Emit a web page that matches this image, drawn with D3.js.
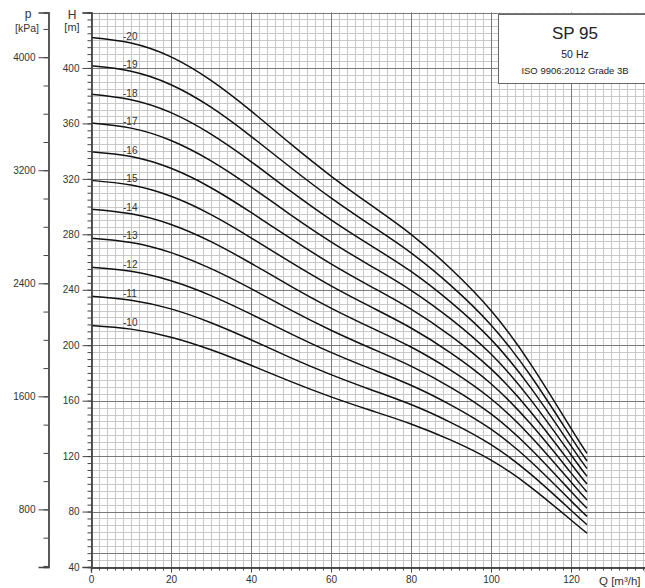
<!DOCTYPE html>
<html lang="en">
<head>
<meta charset="utf-8">
<title>SP 95 curves</title>
<script type="text/javascript" src="https://d3js.org/d3.v7.min.js"></script>
<style type="text/css">
  body { margin: 0; background: #fff; }
  svg { font-family: "Liberation Sans", Arial, sans-serif; }
</style>
</head>
<body>
<script type="text/javascript">

// flow points, m3/h
var flow = [0, 10, 20, 30, 40, 50, 60, 70, 80, 90, 100, 110, 120, 124];

// head per pump, m
var head20 = [422, 418, 408, 391, 369, 345, 322, 301, 280, 255, 225, 186, 140, 122];
var head19 = [401.5, 397.6, 387.9, 371.7, 350.7, 328.0, 306.2, 286.4, 266.6, 243.0, 214.6, 177.6, 133.7, 116.5];
var head18 = [381.0, 377.1, 367.8, 352.3, 332.5, 310.9, 290.4, 271.8, 253.2, 230.9, 204.2, 169.0, 127.4, 111.0];
var head17 = [360.3, 356.6, 347.7, 333.0, 314.2, 293.9, 274.6, 257.1, 239.6, 218.8, 193.6, 160.4, 121.0, 105.4];
var head16 = [339.6, 336.1, 327.6, 313.6, 295.8, 276.8, 258.7, 242.3, 226.0, 206.6, 182.9, 151.7, 114.5, 99.8];
var head15 = [318.9, 315.5, 307.4, 294.2, 277.5, 259.7, 242.8, 227.6, 212.4, 194.3, 172.2, 142.9, 107.9, 94.1];
var head14 = [298.1, 294.8, 287.1, 274.7, 259.1, 242.5, 226.8, 212.7, 198.7, 181.9, 161.4, 134.0, 101.3, 88.3];
var head13 = [277.2, 274.1, 266.8, 255.2, 240.8, 225.3, 210.8, 197.8, 184.9, 169.4, 150.4, 125.0, 94.5, 82.4];
var head12 = [256.3, 253.3, 246.5, 235.8, 222.4, 208.2, 194.8, 182.9, 171.1, 156.8, 139.4, 115.9, 87.7, 76.5];
var head11 = [235.3, 232.5, 226.2, 216.2, 203.9, 190.9, 178.8, 167.9, 157.2, 144.2, 128.3, 106.8, 80.9, 70.5];
var head10 = [214.2, 211.6, 205.8, 196.7, 185.5, 173.7, 162.7, 152.9, 143.2, 131.5, 117.1, 97.5, 73.9, 64.4];

var stageNames = ["-20", "-19", "-18", "-17", "-16", "-15", "-14", "-13", "-12", "-11", "-10"];
var heads = [head20, head19, head18, head17, head16, head15, head14, head13, head12, head11, head10];

var qTicks = [0, 20, 40, 60, 80, 100, 120];
var hTicks = [40, 80, 120, 160, 200, 240, 280, 320, 360, 400];
var pTicks = [800, 1600, 2400, 3200, 4000];

var w = 645;
var h = 588;

var x = d3.scaleLinear().domain([0, 138.5]).range([91, 645]);
var y = d3.scaleLinear().domain([40, 440]).range([567, 12.5]);
// 1 m water = 9.81 kPa
var yp = d3.scaleLinear().domain([40 * 9.81, 440 * 9.81]).range([567, 12.5]);

var svg = d3.select("body")
            .append("svg")
            .attr("width", w)
            .attr("height", h);

var grid = svg.append("g");

// minor grid
grid.selectAll("line.vmin")
    .data(d3.range(0, 139, 2))
    .enter()
    .append("line")
    .attr("x1", function(d){ return x(d) + 0.5 })
    .attr("x2", function(d){ return x(d) + 0.5 })
    .attr("y1", y(440))
    .attr("y2", y(40))
    .attr("stroke", "#c8c8c8")
    .attr("stroke-width", 1);

grid.selectAll("line.hmin")
    .data(d3.range(40, 441, 5))
    .enter()
    .append("line")
    .attr("x1", x(0))
    .attr("x2", w)
    .attr("y1", function(d){ return Math.round(y(d)) + 0.5 })
    .attr("y2", function(d){ return Math.round(y(d)) + 0.5 })
    .attr("stroke", "#c8c8c8")
    .attr("stroke-width", 1);

// major grid
grid.selectAll("line.vmaj")
    .data(qTicks)
    .enter()
    .append("line")
    .attr("x1", function(d){ return x(d) + 0.5 })
    .attr("x2", function(d){ return x(d) + 0.5 })
    .attr("y1", y(440))
    .attr("y2", y(40))
    .attr("stroke", "#7a7a7a")
    .attr("stroke-width", 1);

grid.selectAll("line.hmaj")
    .data(hTicks.concat([50, 440]))
    .enter()
    .append("line")
    .attr("x1", x(0))
    .attr("x2", w)
    .attr("y1", function(d){ return Math.round(y(d)) + 0.5 })
    .attr("y2", function(d){ return Math.round(y(d)) + 0.5 })
    .attr("stroke", "#7a7a7a")
    .attr("stroke-width", 1);

// title box
svg.append("rect")
   .attr("x", 498.5)
   .attr("y", 14.5)
   .attr("width", 160)
   .attr("height", 69)
   .attr("fill", "#fff")
   .attr("stroke", "#666");

svg.append("text").text("SP 95")
   .attr("x", 575).attr("y", 39)
   .attr("text-anchor", "middle")
   .attr("font-size", 17)
   .attr("fill", "#222");
svg.append("text").text("50 Hz")
   .attr("x", 575).attr("y", 58)
   .attr("text-anchor", "middle")
   .attr("font-size", 10.5)
   .attr("fill", "#222");
svg.append("text").text("ISO 9906:2012 Grade 3B")
   .attr("x", 575).attr("y", 74)
   .attr("text-anchor", "middle")
   .attr("font-size", 9.5)
   .attr("fill", "#222");

// pump curves
var line = d3.line()
    .x(function(d, i){ return x(flow[i]) })
    .y(function(d){ return y(d) })
    .curve(d3.curveNatural);

svg.selectAll("path.curve")
   .data(heads)
   .enter()
   .append("path")
   .attr("d", line)
   .attr("fill", "none")
   .attr("stroke", "#111")
   .attr("stroke-width", 1.5);

svg.selectAll("text.stage")
   .data(heads)
   .enter()
   .append("text")
   .text(function(d, i){ return stageNames[i] })
   .attr("x", x(8))
   .attr("y", function(d){ return y(d[1]) - 3 })
   .attr("font-size", 10)
   .attr("fill", "#333");

// axes
var ink = "#444";
var font = "Liberation Sans, Arial, sans-serif";

var hAxis = svg.append("g").attr("transform", "translate(" + (x(0) + 0.5) + ",0)");
hAxis.call(d3.axisLeft(y).tickValues(d3.range(40, 441, 5)).tickSize(4).tickFormat(""));
hAxis.append("g").call(d3.axisLeft(y).tickValues(hTicks.concat([440])).tickSize(9).tickPadding(3)
      .tickFormat(function(d){ return d == 440 ? "" : d }));
hAxis.selectAll("path").attr("stroke", ink).attr("stroke-width", 1.3);
hAxis.selectAll("line").attr("stroke", ink);
hAxis.selectAll("text").attr("font-size", 10).attr("fill", "#333").attr("font-family", font);

var pAxis = svg.append("g").attr("transform", "translate(48.5,0)");
pAxis.call(d3.axisLeft(yp).tickValues(d3.range(400, 4301, 200)).tickSize(5).tickFormat(""));
pAxis.append("g").call(d3.axisLeft(yp).tickValues(pTicks).tickSize(10).tickPadding(3)
      .tickFormat(d3.format("d")));
pAxis.selectAll("path").attr("stroke", ink).attr("stroke-width", 1.3);
pAxis.selectAll("line").attr("stroke", ink);
pAxis.selectAll("text").attr("font-size", 10).attr("fill", "#333").attr("font-family", font);

var qAxis = svg.append("g").attr("transform", "translate(0," + (y(40) + 0.5) + ")");
qAxis.call(d3.axisBottom(x).tickValues(d3.range(0, 139, 2)).tickSize(3).tickFormat(""));
qAxis.append("g").call(d3.axisBottom(x).tickValues(qTicks).tickSize(5).tickPadding(3));
qAxis.selectAll("path").attr("stroke", ink).attr("stroke-width", 1.3);
qAxis.selectAll("line").attr("stroke", ink);
qAxis.selectAll("text").attr("font-size", 10).attr("fill", "#333").attr("font-family", font);

// axis titles
svg.append("text").text("p").attr("x", 28).attr("y", 18)
   .attr("text-anchor", "middle").attr("font-size", 12).attr("fill", "#333");
svg.append("text").text("[kPa]").attr("x", 27).attr("y", 32)
   .attr("text-anchor", "middle").attr("font-size", 10.5).attr("fill", "#333");
svg.append("text").text("H").attr("x", 72).attr("y", 19)
   .attr("text-anchor", "middle").attr("font-size", 12).attr("fill", "#333");
svg.append("text").text("[m]").attr("x", 72).attr("y", 31)
   .attr("text-anchor", "middle").attr("font-size", 11).attr("fill", "#333");
svg.append("text").text("Q [m³/h]").attr("x", 599).attr("y", 585)
   .attr("font-size", 11.5).attr("fill", "#333");

</script>
</body>
</html>
